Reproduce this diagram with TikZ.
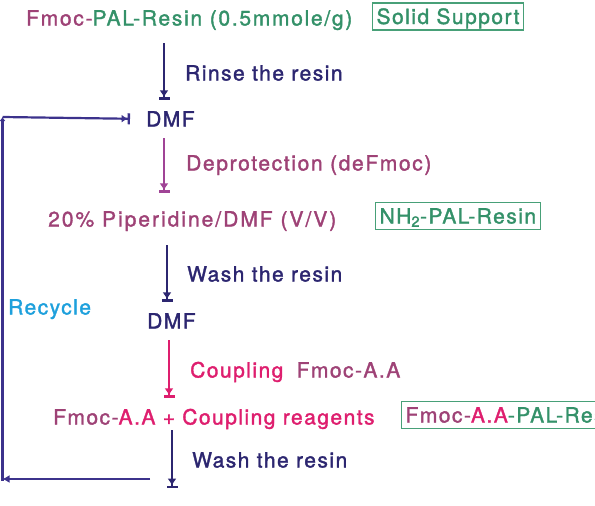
\documentclass[tikz,border=0pt]{standalone}
\usepackage{fontspec}
\setmainfont{TeX Gyre Heros}[LetterSpace=7, FakeBold=1.6]
\usetikzlibrary{arrows.meta}
\definecolor{navy}{RGB}{44,38,112}
\definecolor{mauve}{RGB}{158,66,118}
\definecolor{resgreen}{RGB}{52,145,105}
\definecolor{boxgreen}{RGB}{72,160,120}
\definecolor{magen}{RGB}{222,30,110}
\definecolor{recblue}{RGB}{30,160,220}
\definecolor{violet2}{RGB}{160,68,150}
\definecolor{loopc}{RGB}{60,50,140}
\tikzset{
  txt/.style={inner sep=0pt, text height=15pt, text depth=0pt, anchor=west, font=\fontsize{21}{25}\selectfont},
  boxed/.style={draw=boxgreen, line width=1.2pt, inner xsep=4pt, inner ysep=0pt, minimum height=27pt, text height=15pt, text depth=0pt, anchor=west, font=\fontsize{21}{25}\selectfont},
  flow/.style={line width=1.8pt, -{Latex[length=7pt,width=9pt]Bar[width=11pt,line width=2.4pt]}},
  back/.style={line width=2.2pt, draw=loopc}
}
\begin{document}
\begin{tikzpicture}[x=1pt,y=-1pt]
\useasboundingbox (0,0) rectangle (595,506);
% text nodes
\node[txt] (L1) at (26,18) {\addfontfeatures{LetterSpace=8.2}\color{mauve}Fmoc-\color{resgreen}PAL-Resin (0.5mmole/g)};
\node[boxed, text=resgreen] (B1) at (372,16.5) {Solid Support};
\node[txt, text=navy] (R1) at (185,73) {Rinse the resin};
\node[txt, text=navy] (D1) at (146,119) {DMF};
\node[txt, text=mauve] (DP) at (186,163) {\addfontfeatures{LetterSpace=7.8}Deprotection (deFmoc)};
\node[txt, text=mauve] (P) at (48,219) {\addfontfeatures{LetterSpace=9.5}20\% Piperidine/DMF (V/V)};
\node[boxed, text=resgreen] (B2) at (375,216) {NH\textsubscript{2}-PAL-Resin};
\node[txt, text=navy] (W1) at (187,274) {Wash the resin};
\node[txt, text=recblue] (RC) at (8,307) {Recycle};
\node[txt, text=navy] (D2) at (147,321) {DMF};
\node[txt] (C) at (190,370) {\color{magen}Coupling\hspace{6pt} \color{mauve}Fmoc-A.A};
\node[txt] (F) at (53,417) {\color{mauve}Fmoc-\color{magen}A.A + Coupling reagents};
\node[boxed] (B3) at (401,415) {\color{mauve}Fmoc-\color{magen}A.A\color{resgreen}-PAL-Resin};
\node[txt, text=navy] (W2) at (192,460) {Wash the resin};
% arrow columns
\coordinate (x1) at (164,0);
\coordinate (x2) at (164,0);
\coordinate (x3) at (167,0);
\coordinate (x4) at (169,0);
\coordinate (e5) at (172,488);
\coordinate (bs) at (150,479);
\coordinate (bl) at (2.5,479);
\coordinate (tl) at (2.5,117);
% main flow
\draw[flow, navy, shorten <=17.5pt, shorten >=11.5pt] (x1 |- L1.south) -- (x1 |- D1.north);
\draw[flow, violet2, shorten <=11.5pt, shorten >=18.5pt] (x2 |- D1.south) -- (x2 |- P.north);
\draw[flow, navy, shorten <=18.5pt, shorten >=11.5pt] (x3 |- P.south) -- (x3 |- D2.north);
\draw[flow, magen, shorten <=11.5pt, shorten >=11.5pt] (x4 |- D2.south) -- (x4 |- F.north);
\draw[flow, navy, shorten <=5.5pt] (e5 |- F.south) -- (e5);
% recycle loop
\draw[back, -{Latex[length=7pt,width=8pt]}] (bs) -- (bl);
\draw[back, -{Latex[length=4pt,width=6pt]}] ([yshift=-1.5pt]bl) -- (tl);
\draw[back, -{Latex[length=6pt,width=8pt]Bar[width=11pt,line width=2.4pt]}, shorten >=16pt] (tl) -- (D1.west);
\end{tikzpicture}
\end{document}
